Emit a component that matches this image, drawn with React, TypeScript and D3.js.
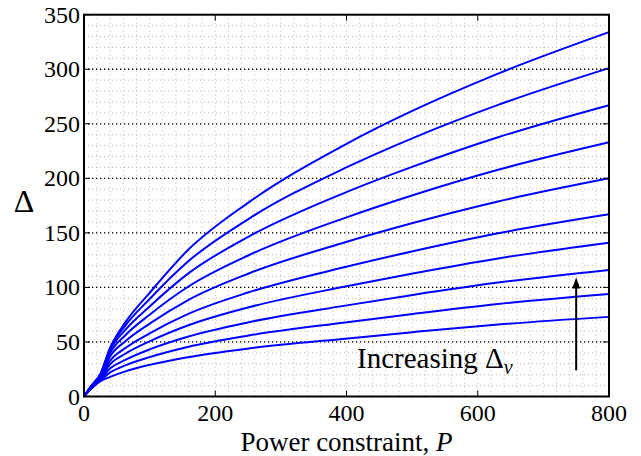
import React from "react";
import * as d3 from "d3";

const powerGrid = [0, 10, 25, 40, 63, 100, 158, 251, 398, 501, 631, 800];

const curve1 = [0, 6.5, 14, 18, 23, 29, 36, 44, 53, 59, 66, 73];
const curve2 = [0, 6.8, 14.8, 22.1, 28.5, 36.1, 45.4, 55.9, 67.9, 75.7, 84.8, 94];
const curve3 = [0, 7.1, 15.6, 25.8, 33.6, 43.2, 54.8, 68.1, 83.3, 93.1, 104.4, 116];
const curve4 = [0, 7.3, 16.3, 29.6, 39.2, 50.6, 65.1, 81.8, 100.8, 112.8, 126.6, 141];
const curve5 = [0, 7.6, 17.1, 32.9, 44.4, 57.9, 75.5, 95.5, 118.7, 133.1, 149.6, 167];
const curve6 = [0, 7.9, 17.9, 37.0, 50.6, 66.8, 88.2, 112.8, 141.4, 159.0, 178.8, 200];
const curve7 = [0, 8.2, 18.7, 40.1, 56.2, 75.0, 100.4, 129.5, 163.8, 184.5, 207.8, 233];
const curve8 = [0, 8.4, 19.4, 42.7, 61.1, 82.5, 112.4, 146.6, 186.9, 210.7, 237.6, 267];
const curve9 = [0, 8.7, 20.2, 44.2, 65.0, 89.4, 123.5, 162.9, 209.5, 236.9, 267.3, 301];
const curve10 = [0, 9, 21, 45, 68, 95, 134, 178, 231, 262, 296, 334];

const allCurves = [curve1, curve2, curve3, curve4, curve5, curve6, curve7, curve8, curve9, curve10];

const xTicks = [0, 200, 400, 600, 800];
const yTicks = [0, 50, 100, 150, 200, 250, 300, 350];

const arrowX = 750;
const arrowFrom = 24;
const arrowTo = 109;
const annotationX = 416;
const annotationY = 26;

export default function App() {
  const W = 641, H = 456;
  const left = 84, right = 609, top = 14.7, bottom = 396.5;
  const x = d3.scaleLinear().domain([0, 800]).range([left, right]);
  const y = d3.scaleLinear().domain([0, 350]).range([bottom, top]);
  const line = d3.line<[number, number]>().x(d => x(d[0])).y(d => y(d[1])).curve(d3.curveMonotoneX);

  const minorX = d3.range(0, 801, 20);
  const minorY = d3.range(0, 351, 10);
  const font = "'Liberation Serif', 'Times New Roman', serif";
  const ts = { fontFamily: font } as React.CSSProperties;

  return (
    <svg width={W} height={H} style={{ position: "absolute", left: 0, top: 0, background: "#fff" }}>
      <rect x={0} y={0} width={W} height={H} fill="#fff" />
      {minorX.map(v => (
        <line key={"mx" + v} x1={x(v)} x2={x(v)} y1={top} y2={bottom} stroke="#a8a8a8" strokeWidth={0.8} strokeDasharray="1,3" />
      ))}
      {minorY.map(v => (
        <line key={"my" + v} x1={left} x2={right} y1={y(v)} y2={y(v)} stroke="#a8a8a8" strokeWidth={0.8} strokeDasharray="1,3" />
      ))}
      {yTicks.slice(1, -1).map(v => (
        <line key={"gy" + v} x1={left} x2={right} y1={y(v)} y2={y(v)} stroke="#000" strokeWidth={1.3} strokeDasharray="1.3,2.7" />
      ))}
      {allCurves.map((c, i) => (
        <path key={"c" + i} d={line(powerGrid.map((p, j) => [p, c[j]] as [number, number])) || ""} fill="none" stroke="#0000ff" strokeWidth={2} strokeLinejoin="round" />
      ))}
      {xTicks.map(v => (
        <g key={"xt" + v}>
          <line x1={x(v)} x2={x(v)} y1={bottom} y2={bottom - 6} stroke="#000" strokeWidth={1} />
          <line x1={x(v)} x2={x(v)} y1={top} y2={top + 6} stroke="#000" strokeWidth={1} />
        </g>
      ))}
      {yTicks.map(v => (
        <g key={"yt" + v}>
          <line x1={left} x2={left + 6} y1={y(v)} y2={y(v)} stroke="#000" strokeWidth={1} />
          <line x1={right} x2={right - 6} y1={y(v)} y2={y(v)} stroke="#000" strokeWidth={1} />
        </g>
      ))}
      <rect x={left} y={top} width={right - left} height={bottom - top} fill="none" stroke="#000" strokeWidth={2} />
      {xTicks.map(v => (
        <text key={"xl" + v} x={x(v)} y={421} textAnchor="middle" style={ts} fontSize={24} fill="#000">{v}</text>
      ))}
      {yTicks.map(v => (
        <text key={"yl" + v} x={80} y={y(v) + 8} textAnchor="end" style={ts} fontSize={24} fill="#000">{v}</text>
      ))}
      <text x={x(400)} y={451} textAnchor="middle" style={ts} fontSize={27} fill="#000">
        Power constraint, <tspan fontStyle="italic">P</tspan>
      </text>
      <text x={24} y={212} textAnchor="middle" style={ts} fontSize={32} fill="#000">Δ</text>
      <line x1={x(arrowX)} x2={x(arrowX)} y1={y(arrowFrom)} y2={y(arrowTo) + 8} stroke="#000" strokeWidth={2} />
      <path d={`M${x(arrowX)},${y(arrowTo)} L${x(arrowX) - 4},${y(arrowTo) + 11} L${x(arrowX) + 4},${y(arrowTo) + 11} Z`} fill="#000" />
      <text x={x(annotationX)} y={y(annotationY)} style={ts} fontSize={29} fill="#000">
        Increasing Δ<tspan fontStyle="italic" fontSize={20} dy={6}>v</tspan>
      </text>
    </svg>
  );
}
